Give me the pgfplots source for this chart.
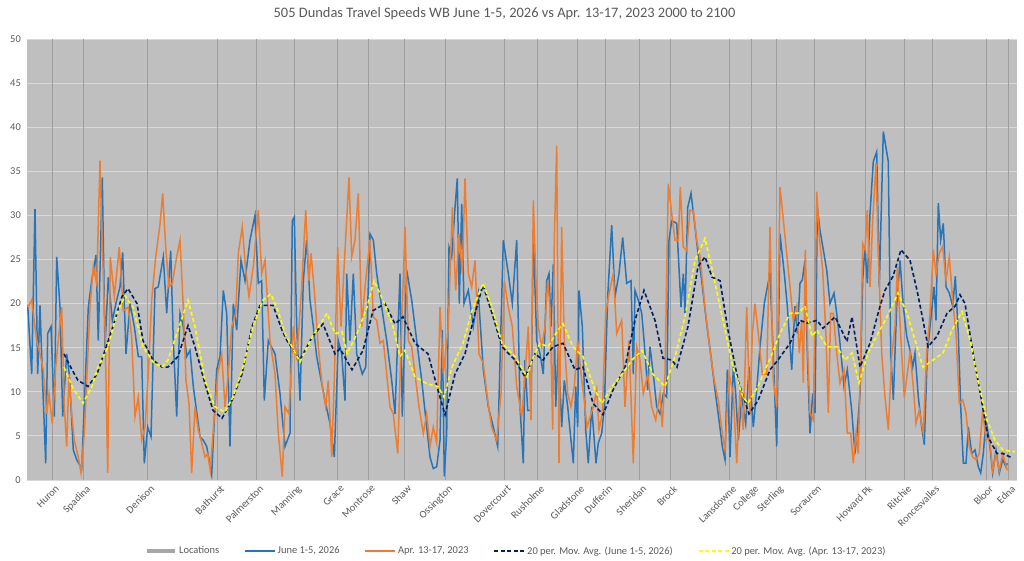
\documentclass[border=0pt]{standalone}
\usepackage{fontspec}
\setmainfont{Carlito}
\usepackage{pgfplots}
\pgfplotsset{compat=1.18}
\definecolor{bgc}{RGB}{191,191,191}
\definecolor{gridc}{RGB}{217,217,217}
\definecolor{locc}{RGB}{158,158,158}
\definecolor{locleg}{RGB}{166,166,166}
\definecolor{bluec}{RGB}{40,116,184}
\definecolor{orangec}{RGB}{237,125,49}
\definecolor{navyc}{RGB}{0,32,96}
\definecolor{yelc}{RGB}{255,255,0}
\definecolor{txtc}{RGB}{89,89,89}
\begin{document}
\begin{tikzpicture}[x=1bp,y=1bp]
\useasboundingbox (0,0) rectangle (1024,561);
\node[text=txtc, font=\fontsize{14.5}{17}\selectfont] at (504.5,547) {505 Dundas Travel Speeds WB June 1-5, 2026 vs Apr. 13-17, 2023 2000 to 2100};
\begin{axis}[
  at={(27bp,81bp)}, anchor=south west,
  width=990bp, height=441bp, scale only axis,
  xmin=27, xmax=1017, ymin=0, ymax=50,
  ytick={0,5,...,50},
  xtick={52,83,147,217,256,294,337,368,404,445,504,537,577,605,639,670,729,751,776,814,865,904,932,986,1008},
  xticklabels={Huron,Spadina,Denison,Bathurst,Palmerston,Manning,Grace,Montrose,Shaw,Ossington,Dovercourt,Rusholme,Gladstone,Dufferin,Sheridan,Brock,Lansdowne,College,Sterling,Sorauren,Howard Pk,Ritchie,Roncesvalles,Bloor,Edna},
  ymajorgrids, grid style={gridc, line width=0.8bp},
  axis line style={draw=none}, major tick length=0pt, tick style={draw=none},
  axis background/.style={fill=bgc},
  /pgf/number format/assume math mode=true,
  tick label style={text=txtc, font=\fontsize{10.5}{12}\selectfont},
  xticklabel style={rotate=45, anchor=north east, inner sep=1bp, yshift=-4bp},
  yticklabel style={inner sep=1bp, xshift=-5bp},
  legend columns=5,
  legend style={at={(0.494,-0.161)}, anchor=center, draw=none, fill=none,
    font=\fontsize{10.5}{12}\selectfont, text=txtc,
    /tikz/every even column/.append style={column sep=23bp}},
  legend image code/.code={\draw[#1] (0bp,0bp) -- (30bp,0bp);},
]
\addplot[ycomb, color=locc, line width=1bp, mark=none,
  legend image code/.code={\draw[line width=4.5bp, color=locleg] (0bp,0bp) -- (28bp,0bp);}]
coordinates {(52,50) (83,50) (147,50) (217,50) (256,50) (294,50) (337,50) (368,50) (404,50) (445,50) (504,50) (537,50) (577,50) (605,50) (639,50) (670,50) (729,50) (751,50) (776,50) (814,50) (865,50) (904,50) (932,50) (986,50) (1008,50)};
\addlegendentry{Locations}
\addplot[color=bluec, line width=1.5bp, mark=none] coordinates {
(27.7,19.8) (31.7,12) (35,30.7) (37.7,12) (40,19.8) (42.3,12) (45.7,1.9) (47.7,16.6) (51,17.4) (54.3,7.2) (56.7,25.3) (60,19.6) (62.7,7.2) (66.7,14.3) (69.3,12) (73.3,3.4) (76.7,2.3) (81.7,1.3) (85,10.4) (88.3,19.6) (91.7,22.6) (96,25.5) (98.3,15.8) (102.3,34.3) (105,15) (108.3,23) (112.3,18.1) (116.7,20.4) (120,21.9) (122.7,25.8) (126,14.3) (130,20) (134.3,17.4) (138.3,14) (141.7,14) (144.3,1.9) (147.7,6) (151,4.9) (155,21.7) (158.3,21.9) (163.3,25.3) (166.7,18.9) (170.7,26) (173.3,15.8) (176.7,7.2) (180,18.9) (183.3,17.4) (186.7,14) (190,14.7) (193.3,10.6) (196,8.3) (200,4.9) (203.3,4.5) (206.7,3.8) (211.7,0.6) (216.7,12.5) (220,14) (223.3,21.5) (226.7,18.9) (230,3.8) (233.3,20) (236.7,17) (241,24.9) (245,22.6) (250,27.2) (255,30) (258.3,22.3) (261.7,22.6) (264.3,9) (268.3,15.8)
(275,14.3) (280,9.8) (285,3.8) (290,5.3) (292.3,29.4) (294.3,29.8) (296.7,17.4) (300,9) (303.3,22.6) (306.7,27.2) (310,20.4) (313.3,17.4) (316.7,14) (320,12) (325,9) (330,6.4) (334.3,2.6) (338.3,15.8) (341.7,14.3) (345,9) (346.7,23.4) (350,15.8) (353.3,23.4) (356.7,14.3) (362.3,12) (365.7,12.8) (370,27.9) (373.3,27.2) (376.7,23.4) (381.7,19.6) (386.7,15.8) (391.7,11.3) (395,7.5) (400,23.4) (402.3,7.2) (406.7,23.8) (411.7,20.4) (416.7,15.8) (421.7,11.3) (426.7,6) (430,2.6) (433.3,1.3) (436.7,1.5) (440,4.5) (442.3,17) (444.3,0.4) (446.7,5.3) (449,26.4) (451.7,25.3) (455,30.9) (457.3,34.2) (459.3,20) (461.7,31.3) (464,20) (468.3,21.5) (473.3,17.4) (478.3,21.1) (483.3,12.5) (488.3,8.3) (493.3,6) (497.7,3.8) (503.3,27.2) (508.3,23.4) (512.3,20) (516.7,27.2) (520,8.3) (523.3,1.9)
(525,13.6) (527.7,7.9) (531,7.9) (533.3,27.9) (536.7,15.8) (540,14.3) (543.3,12) (546.7,22.6) (549,23.4) (551,17.4) (553.3,24.5) (555.7,8.3) (558.3,15.1) (561.7,6) (564.3,11.3) (567.7,8.3) (571,4.5) (573.3,1.9) (575.7,10.6) (577.7,6) (579,21.5) (582.3,17.4) (585.7,5.7) (588.3,1.9) (591.7,8.3) (596,1.9) (598.3,4.2) (601.7,5.3) (604.3,8.3) (607.7,20.8) (611.7,28.9) (615,20.8) (619,23.4) (622.7,27.5) (626.7,22.3) (631,22.6) (633.3,12) (635,21.5) (638.3,20.4) (641.7,18.9) (644.3,15.5) (647.7,10.2) (650,15.1) (653.3,12) (656.7,8.3) (660,7.5) (663.3,9.8) (666.7,9.4) (669,27.2) (671.7,29.4) (676.7,29.1) (681,19.6) (683.3,23.4) (685,18.9) (687.7,30.9) (691,32.5) (694.3,29.4) (697.7,26) (701.7,22.6) (706.7,17.7) (711,14) (715,10.2) (719,6.8) (722.3,3.8) (725,2.3) (727.3,12.5) (730,2.6) (733.3,12.8) (735.7,9.8) (738.3,4.5) (741.7,9.4) (745.7,6.4) (749,12.8) (753.3,6) (756.7,10.2) (760,15.1) (764.3,20) (766.7,21.5) (770,23.4) (773.3,14) (776.7,3.8) (780,27.9) (784.3,23.4)
(787.3,19.7) (791.7,12.5) (795,19.7) (797.3,16.6) (800,22.3) (802.3,22.7) (805,24.9) (807.3,14.4) (810,5.3) (812.7,9.8) (815,7.6) (817.3,31) (820,28.3) (823.3,26.1) (826.7,23.8) (830,20) (834,21.2) (836.7,18.9) (840,15.5) (844,10.6) (847.3,12.5) (851.7,7.9) (855,3) (857.3,5.7) (860,9.8) (862.7,22.7) (865,26.5) (867.3,22.3) (870,30.2) (873.3,36.1) (876.7,37.2) (879.3,21.9) (883.3,39.5) (888.3,36.1) (890.7,14.4) (893.3,9.1) (896.7,19.7) (900,24.9) (903.3,19.7) (906.7,16.3) (910,14.7) (912.7,12.8) (915,14.4) (918.3,9.4) (921.7,6) (924.3,4) (927.3,14.4) (930.7,18.1) (934,21.9) (936,18.1) (938.3,31.4) (940.7,27.2) (943.3,29.1) (946,21.9) (949.3,21.2) (952.7,19.7) (955.3,23.1) (958.3,16.6) (960.7,8.3) (963.3,1.9) (966,1.9) (968.3,6) (971.7,3) (975,3.4) (978.3,1.5) (980.7,0.8) (983.3,3) (986,6.8) (989.3,4.5) (992.7,0.8) (996,3.4) (999.3,0.8) (1002.7,2.3) (1006,1.5) (1007.3,1.9)
};
\addlegendentry{June 1-5, 2026}
\addplot[color=orangec, line width=1.5bp, mark=none] coordinates {
(27.7,19.6) (31.7,20.4) (36.7,15.8) (40,14.3) (43.3,12.5) (46.7,7.5) (49,9.8) (52.3,6.4) (55.7,12.8) (58.3,15.8) (61.7,19.6) (64.3,8.3) (66.7,3.8) (69,12) (71.7,7.5) (74.3,4.5) (78.3,2.6) (81,0.8) (84.3,5.3) (86.7,11.3) (90,19.6) (93.3,24.2) (96.7,22.3) (100,36.2) (102.3,26.4) (105,17.4) (107.7,0.8) (110.3,25.3) (114.3,20.8) (119.3,26.4) (123.3,19.2) (128.3,19.6) (131.7,16.2) (135,7.2) (138.3,9.4) (141.7,4.5) (145,6) (148.3,12) (151.7,20.4) (155.7,25.3) (160,29) (162.7,32.5) (165.7,26.4) (169,21.9) (172.3,22.3) (176.7,25.3) (180,27.2) (183.3,19.6) (186,11.3) (189,8.7) (191.7,0.8) (195,8.3) (198.3,5.7) (201.7,4.2) (205,2.6) (207.7,3) (210.3,1.1) (213.3,5.7) (217.7,12) (221.7,14.3) (225,8.3) (228.3,12) (231.7,17.4) (235.7,18.9) (238.3,25.7) (242.3,28.7) (245.7,23.8) (249,20.8) (253.3,24.2) (258.3,30.6) (261.7,23.4) (265,24.9) (270,15.8)
(275,12) (278.3,5.3) (282.3,0.4) (285,8.3) (289,7.5) (293.3,17.4) (296.7,13.6) (301.7,21.9) (305.7,30.6) (309,22.6) (311,25.7) (314.3,21.5) (318.3,15.1) (322.3,10.6) (325.7,8.3) (328.3,11.3) (331.7,2.6) (334.3,11.3) (337.7,26.4) (341,17.4) (345,26) (349,34.3) (351.7,25.3) (355,27.2) (358.3,32.5) (361.7,17.4) (365,21.9) (370,27.2) (373.3,18.5) (376.7,18.1) (380,15.5) (383.3,15.8) (386.7,12) (390,8.3) (393.3,7.5) (397.7,3) (401,15.1) (405,28.7) (408.3,15.8) (411.7,15.1) (415,12) (419,8.3) (423.3,5.3) (426.7,7.5) (430,3.8) (433.3,6) (436.7,4.2) (440,19.6) (443.3,12) (448.3,17.4) (452.3,30.9) (455.7,21.5) (459,27.9) (462.3,23.4) (465,34.2) (468.3,23.4) (471.7,21.9) (475,24.9) (479,14.3) (483.3,13.2) (487.7,9) (491.7,6) (496.7,4.5) (501,9.8) (504.3,22.6) (508.3,19.6) (512.3,17.4) (516.7,10.6) (521.7,7.2)
(525,12) (528.3,17.4) (531,6.8) (533.3,31.7) (535.7,23.4) (538.3,17.4) (541.7,15.1) (545,17.4) (547.7,22.6) (550,19.6) (552.7,5.7) (554.3,27.2) (556.7,37.9) (559,1.9) (561.7,28.7) (564.3,15.8) (567.7,9.8) (571,8.3) (574.3,10.6) (577.7,15.8) (581,12) (584.3,9) (587,6) (590.3,7.2) (593.3,8.3) (596.7,10.2) (599,5.7) (602.3,7.5) (605.7,18.9) (609,21.1) (613.3,23.4) (616.7,16.6) (621.7,18.1) (625,8.3) (629,15.8) (633.3,1.9) (636.7,15.1) (640,13.6) (643.3,9.8) (647.7,12) (651.7,8.3) (655.7,6.8) (660,9.8) (662.3,6) (665,12) (668.3,33.6) (671.7,30.2) (675,27.2) (678.3,27.2) (680.3,33.2) (683.3,26.4) (686.7,26) (690,30.6) (693.3,30.6) (696.7,27.2) (700,25.3) (705,19.6) (710,14.7) (714.3,11.3) (718.3,9) (722.3,5.3) (725,3.4) (729,12) (733.3,9.8) (736.7,1.9) (740,10.2) (743.3,5.7) (746.7,19.6) (750,7.5) (752.3,16.6) (755,20) (758.3,16.6) (762.3,12) (766.7,12) (770,28.7) (773.3,11.3) (776.7,8.3) (780,33.2)
(783.3,29.5) (786.7,25.7) (790,21.9) (793.3,18.1) (796.7,19.7) (799.3,14.4) (801.7,18.1) (803.3,11) (805.3,26.1) (807.7,14.7) (810,7.6) (813.3,6.8) (816.7,32.7) (819.3,27.6) (822.7,23.8) (826,16.3) (828.3,7.6) (830.7,18.9) (833.3,18.9) (836.7,14.4) (840,11) (844,12.5) (847.3,5.3) (850.7,5.3) (853.3,1.9) (856,5.3) (858.3,3) (860.7,14.4) (862.7,26.8) (865,26.1) (867.3,30.6) (870,21.9) (872.7,29.5) (876,35.9) (878.3,25.7) (881.7,14.4) (885,9.4) (888.3,5.7) (891.7,14) (895,17.4) (897.3,24.2) (900.7,16.3) (904.3,9.4) (907.3,12.1) (910,14.4) (913.3,10.6) (916,6.4) (919.3,7.9) (923.3,5.3) (926.7,14.4) (930,18.9) (933.3,26.1) (936,23.4) (939.3,25.7) (942.7,26.5) (946,22.7) (949.3,25.3) (952.7,20.4) (956,16.6) (959.3,8.7) (962.7,9.1) (966,7.6) (969.3,3.8) (972.7,2.6) (976,2.3) (979.3,3) (982.7,7.9) (986,4.5) (989.3,4.9) (992.7,1.1) (996,3) (999.3,1.1) (1002.7,3) (1007.3,1.1)
};
\addlegendentry{Apr. 13-17, 2023}
\addplot[color=navyc, line width=1.6bp, dash pattern=on 4bp off 2.5bp, mark=none] coordinates {
(64,14.3) (72,12.5) (78,11.3) (88,10.6) (97,12) (105,14.7) (113,17.4) (122,20.8) (128,21.7) (137,20) (143,15.8) (153,13.6) (162,12.8) (168,12.8) (178,14) (188,17.5) (195,15.1) (205,10.9) (213,7.9) (222,7) (232,9) (242,12) (252,17.4) (260,19.8) (273,19.8) (282,17) (287,15.8) (300,13.6) (312,16.2) (323,17.7) (335,14.3) (340,14.9) (352,12.5) (363,14.7) (373,19.2) (385,20) (395,17.7) (403,18.5) (415,15.5) (428,14.3) (437,10.6) (445,7.4) (455,12) (465,14.3) (475,18.9) (483,22.1) (492,18.9) (502,15.1) (515,13.6) (525,11.7) (535,14.3) (543,13.6) (553,15.1) (563,15.5) (575,12.5) (583,12.8) (593,8.7) (603,7.4) (613,10.2) (625,12.8) (635,18.1) (644,21.5) (655,18.1) (663,13.8) (672,13.6) (677,12.8) (688,17.4) (698,24.2) (705,25.3) (712,23) (720,22.6) (728,17) (738,11.3) (749,7.5) (758,9) (770,12.5) (778,13.6) (790,15.5) (800,18.1) (807,17.8) (817,18.1) (823,17.2) (835,18.5) (847,15.7) (852,18.5) (860,12.8) (870,15.5) (880,19.7) (885,21.5) (893,23.1) (901,26.1) (910,24.9) (917,21.5) (923,18.1) (928,15.1) (937,16.3) (947,18.9) (955,19.7) (960,21) (965,20) (973,14.4) (982,8.7) (988,4.9) (997,3) (1003,3) (1012,2.5)
};
\addlegendentry{20 per. Mov. Avg. (June 1-5, 2026)}
\addplot[color=yelc, line width=1.6bp, dash pattern=on 4bp off 2.5bp, mark=none] coordinates {
(64,12.8) (73,10.4) (83,8.7) (92,10.6) (98,12.8) (108,15.1) (117,18.9) (125,20.9) (133,19.6) (143,15.1) (153,13.4) (162,12.8) (168,13.6) (178,17) (188,20.4) (195,17.4) (205,11.3) (215,8.3) (225,7.7) (233,9.4) (243,12.8) (253,17.4) (263,20.4) (271,21.1) (278,19.2) (285,16.6) (300,13.4) (312,16.2) (327,18.9) (335,16.6) (342,16.8) (347,14.3) (357,16.6) (367,19.6) (374,22.6) (383,20.4) (393,17.4) (400,14) (405,14.7) (415,11.7) (427,10.9) (438,10.6) (444,9.4) (452,12.8) (463,15.5) (472,19.2) (483,22.3) (492,19.6) (502,15.5) (515,14) (527,11.7) (532,13.6) (540,15.5) (548,15.1) (558,17) (563,17.7) (573,15.1) (583,14) (595,10.2) (602,8.7) (612,10.6) (622,12) (632,13.6) (642,14.7) (653,12) (665,10.6) (675,14) (685,18.5) (695,24.9) (705,27.4) (713,23.4) (723,18.1) (733,12.8) (743,9.4) (748,8.7) (758,10.6) (772,14.3) (780,16.6) (790,18.9) (798,18.9) (805,19.7) (812,16.3) (817,17) (827,15.1) (837,15.1) (845,13.6) (852,14.4) (859,11) (868,14.4) (878,16.6) (887,18.5) (898,21.2) (907,18.9) (917,15.1) (923,12.8) (933,13.6) (943,14.4) (952,17) (962,19.1) (970,15.9) (978,11.3) (987,6.8) (995,4.5) (1003,3.4) (1015,3.2)
};
\addlegendentry{20 per. Mov. Avg. (Apr. 13-17, 2023)}
\end{axis}
\end{tikzpicture}
\end{document}
